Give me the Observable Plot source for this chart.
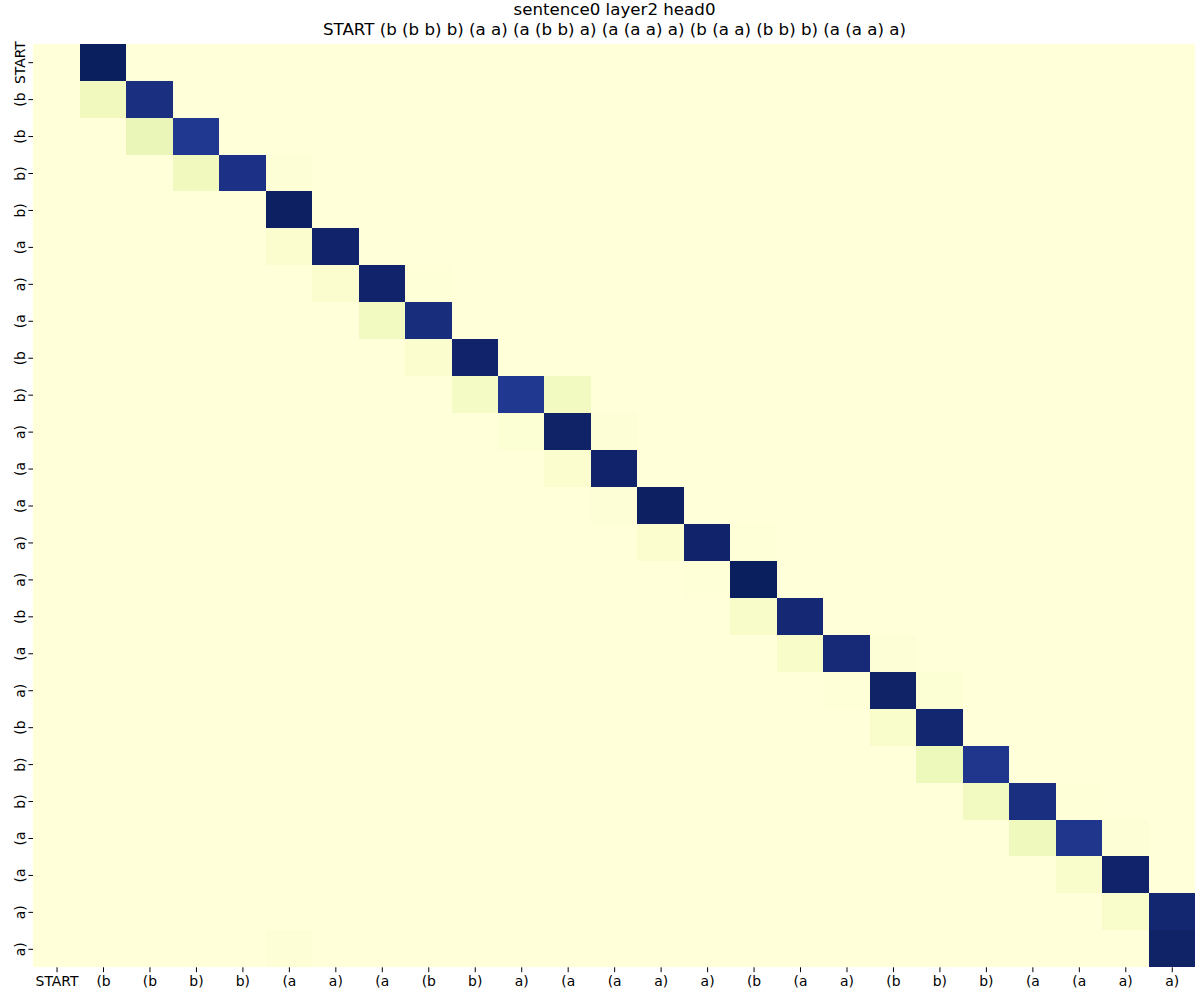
<!DOCTYPE html>
<html><head><meta charset="utf-8">
<script src="https://cdn.jsdelivr.net/npm/d3@7"></script>
<script src="https://cdn.jsdelivr.net/npm/@observablehq/plot@0.6"></script>
<style>
html,body{margin:0;padding:0;background:#fff;overflow:hidden;font-family:"DejaVu Sans",sans-serif;}
#title{width:1201px;height:40px;box-sizing:border-box;padding-left:28px;text-align:center;font-size:16.67px;line-height:20px;color:#000;white-space:nowrap}
#chart svg{display:block}
</style></head><body>
<div id="title"><div>sentence0 layer2 head0</div><div>START (b (b b) b) (a a) (a (b b) a) (a (a a) a) (b (a a) (b b) b) (a (a a) a)</div></div>
<div id="chart"></div>
<script>
const tokens = ["START","(b","(b","b)","b)","(a","a)","(a","(b","b)","a)","(a","(a","a)","a)","(b","(a","a)","(b","b)","b)","(a","(a","a)","a)"];
// [row (query), column (key), attention weight]; cells not listed are ~0
const entries = [
  [0,1,0.99],
  [1,1,0.09],[1,2,0.91],
  [2,2,0.13],[2,3,0.87],
  [3,3,0.09],[3,4,0.90],[3,5,0.01],
  [4,5,0.98],
  [5,5,0.03],[5,6,0.96],
  [6,6,0.03],[6,7,0.96],[6,8,0.005],
  [7,7,0.08],[7,8,0.92],
  [8,8,0.03],[8,9,0.96],
  [9,9,0.07],[9,10,0.87],[9,11,0.08],
  [10,10,0.02],[10,11,0.97],[10,12,0.01],
  [11,11,0.03],[11,12,0.96],
  [12,12,0.01],[12,13,0.98],
  [13,13,0.03],[13,14,0.96],[13,15,0.005],
  [14,14,0.005],[14,15,0.99],
  [15,15,0.05],[15,16,0.94],
  [16,16,0.05],[16,17,0.93],[16,18,0.01],
  [17,17,0.005],[17,18,0.97],[17,19,0.02],
  [18,18,0.04],[18,19,0.95],
  [19,19,0.11],[19,20,0.88],
  [20,20,0.08],[20,21,0.91],[20,22,0.005],
  [21,21,0.10],[21,22,0.88],[21,23,0.01],
  [22,22,0.04],[22,23,0.96],
  [23,23,0.04],[23,24,0.95],
  [24,5,0.01],[24,24,0.97]
];
const n = tokens.length;
const data = [];
for (let r = 0; r < n; r++) for (let c = 0; c < n; c++) data.push({r, c, w: 0});
entries.forEach(([r, c, w]) => { data[r * n + c].w = w; });

const chart = Plot.plot({
  width: 1201, height: 965,
  marginTop: 3.7, marginBottom: 37.7, marginLeft: 33.3, marginRight: 6,
  style: {fontFamily: "DejaVu Sans", fontSize: "13.9px", background: "#fff", color: "#000"},
  x: {type: "band", domain: d3.range(n), padding: 0, round: false, tickFormat: i => tokens[i], label: null, tickSize: 4.9, tickPadding: 3.5},
  y: {type: "band", domain: d3.range(n), padding: 0, round: false, tickFormat: i => tokens[i], label: null, tickRotate: -90, tickSize: 4.9, tickPadding: 3.5},
  color: {type: "linear", scheme: "YlGnBu", domain: [0, 1]},
  marks: [
    Plot.cell(data, {x: "c", y: "r", fill: "w", inset: 0, shapeRendering: "crispEdges"})
  ]
});
document.getElementById("chart").appendChild(chart);
</script>
</body></html>
